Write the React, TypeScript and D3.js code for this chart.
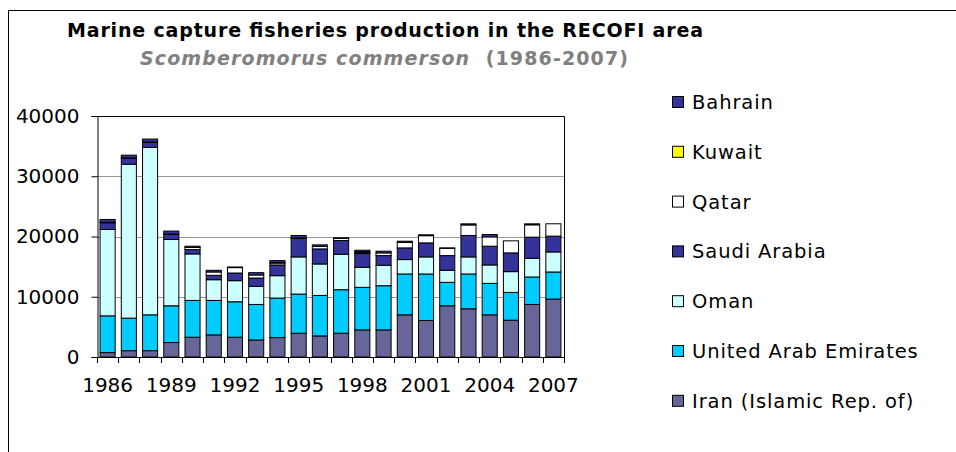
import React, { useEffect, useRef } from "react";
import * as d3 from "d3";

// years on the x axis
const years = ["1986", "1987", "1988", "1989", "1990", "1991", "1992", "1993", "1994", "1995", "1996",
  "1997", "1998", "1999", "2000", "2001", "2002", "2003", "2004", "2005", "2006", "2007"];

// tonnes per country
const iran = [730, 1050, 1050, 2400, 3280, 3670, 3280, 2830, 3220, 3940, 3500, 3940, 4500, 4500, 7000, 6060, 8500, 8000, 7000, 6110, 8720, 9610];
const uae = [6100, 5400, 5950, 6100, 6110, 5720, 5890, 5890, 6560, 6500, 6720, 7230, 7060, 7330, 6780, 7720, 3890, 5780, 5220, 4610, 4560, 4500];
const oman = [14340, 25550, 27780, 11000, 7720, 3440, 3500, 3000, 3720, 6170, 5220, 5890, 3330, 3390, 2390, 2830, 2000, 2830, 3060, 3450, 3110, 3330];
const saudi = [1110, 950, 820, 830, 720, 730, 1270, 1390, 1780, 3060, 2500, 2270, 2280, 1610, 1940, 2330, 2440, 3560, 3110, 3110, 3500, 2620];
const qatar = [100, 100, 100, 100, 350, 550, 900, 500, 300, 100, 400, 350, 150, 450, 900, 1200, 1200, 1750, 1550, 2000, 2050, 2050];
const kuwait = [0, 0, 0, 0, 0, 0, 0, 0, 100, 0, 0, 0, 150, 0, 0, 0, 0, 0, 0, 0, 0, 0];
const bahrain = [450, 450, 470, 470, 210, 280, 100, 390, 320, 400, 270, 100, 250, 280, 210, 140, 80, 180, 390, 0, 160, 0];

const yTicks = [0, 10000, 20000, 30000, 40000];
const xLabels = ["1986", "1989", "1992", "1995", "1998", "2001", "2004", "2007"];

// bottom to top stacking order
const series = [
  { name: "Iran (Islamic Rep. of)", values: iran, color: "#666699" },
  { name: "United Arab Emirates", values: uae, color: "#00CCFF" },
  { name: "Oman", values: oman, color: "#CCFFFF" },
  { name: "Saudi Arabia", values: saudi, color: "#333399" },
  { name: "Qatar", values: qatar, color: "#FFFFFF" },
  { name: "Kuwait", values: kuwait, color: "#FFFF00" },
  { name: "Bahrain", values: bahrain, color: "#333399" },
];

function App() {
  const svgRef = useRef<SVGSVGElement>(null);

  useEffect(() => {
    const width = 956;
    const height = 452;
    const left = 97, right = 564, top = 116, bottom = 357;
    const font = "'DejaVu Sans', Verdana, sans-serif";

    const svg = d3.select(svgRef.current)
      .attr("width", width)
      .attr("height", height)
      .style("font-family", font);
    svg.selectAll("*").remove();

    svg.append("rect").attr("width", width).attr("height", height).attr("fill", "#fff");
    // outer frame of the chart object
    svg.append("path").attr("d", `M8.5,${height} V10.5 H${width}`)
      .attr("fill", "none").attr("stroke", "#000");

    // titles
    svg.append("text").attr("x", 67).attr("y", 37)
      .attr("font-size", 19).attr("font-weight", "bold")
      .attr("textLength", 636).attr("lengthAdjust", "spacing")
      .text("Marine capture fisheries production in the RECOFI area");
    const sub = svg.append("text").attr("x", 140).attr("y", 65)
      .attr("font-size", 19).attr("font-weight", "bold").attr("fill", "#808080")
      .attr("textLength", 488).attr("lengthAdjust", "spacing");
    sub.append("tspan").attr("font-style", "italic").text("Scomberomorus commerson");
    sub.append("tspan").text("\u00a0 (1986-2007)");

    const x = d3.scaleBand().domain(years).range([left, right]).paddingInner(0.29).paddingOuter(0.145);
    const y = d3.scaleLinear().domain([0, 40000]).range([bottom, top]);

    // gridlines
    svg.append("g").selectAll("line").data(yTicks.slice(1)).join("line")
      .attr("x1", left).attr("x2", right)
      .attr("y1", d => Math.round(y(d)) + 0.5).attr("y2", d => Math.round(y(d)) + 0.5)
      .attr("stroke", "#999");

    const stackData = years.map((yr, i) => {
      const row: Record<string, number | string> = { year: yr };
      series.forEach(s => { row[s.name] = s.values[i]; });
      return row;
    });
    const stacked = d3.stack<any>().keys(series.map(s => s.name))(stackData);

    svg.append("g").selectAll("g").data(stacked).join("g")
      .attr("fill", (_, i) => series[i].color)
      .selectAll("rect").data(d => d.filter(p => p[1] - p[0] > 0)).join("rect")
      .attr("x", d => x(d.data.year as string)!)
      .attr("width", x.bandwidth())
      .attr("y", d => y(d[1]))
      .attr("height", d => y(d[0]) - y(d[1]))
      .attr("stroke", "#000").attr("stroke-width", 1);

    // plot frame (top and right)
    svg.append("path").attr("d", `M${left},${top + 0.5} H${right + 0.5} V${bottom}`)
      .attr("fill", "none").attr("stroke", "#000");

    // y axis
    const yAxis = svg.append("g").attr("transform", `translate(${left + 0.5},0)`)
      .call(d3.axisLeft(y).tickValues(yTicks).tickSize(6).tickPadding(12).tickFormat(d3.format("d")));
    yAxis.select(".domain").attr("stroke", "#000");
    yAxis.selectAll("text").attr("font-size", 20).attr("font-family", font).attr("fill", "#000");

    // x axis: ticks between categories
    const step = x.step();
    const gx = svg.append("g");
    gx.append("line").attr("x1", left).attr("x2", right + 0.5)
      .attr("y1", bottom + 0.5).attr("y2", bottom + 0.5).attr("stroke", "#000");
    gx.selectAll("line.tick").data(d3.range(years.length + 1)).join("line").attr("class", "tick")
      .attr("x1", i => Math.round(left + i * step) + 0.5).attr("x2", i => Math.round(left + i * step) + 0.5)
      .attr("y1", bottom).attr("y2", bottom + 6).attr("stroke", "#000");
    gx.selectAll("text").data(xLabels).join("text")
      .attr("x", d => x(d)! + x.bandwidth() / 2).attr("y", 392)
      .attr("text-anchor", "middle").attr("font-size", 20).text(d => d);

    // legend, top to bottom in reverse stacking order
    const legendItems = series.slice().reverse();
    const lg = svg.append("g").selectAll("g").data(legendItems).join("g")
      .attr("transform", (_, i) => `translate(672,${102 + i * 49.8})`);
    lg.append("rect").attr("x", 0.5).attr("y", -5.5).attr("width", 11).attr("height", 11)
      .attr("fill", d => d.color).attr("stroke", "#000");
    lg.append("text").attr("x", 20).attr("y", 7).attr("font-size", 19.5)
      .attr("letter-spacing", 0.9).text(d => d.name);
  }, []);

  return (
    <div style={{ position: "absolute", left: 0, top: 0 }}>
      <svg ref={svgRef}></svg>
    </div>
  );
}

export default App;
